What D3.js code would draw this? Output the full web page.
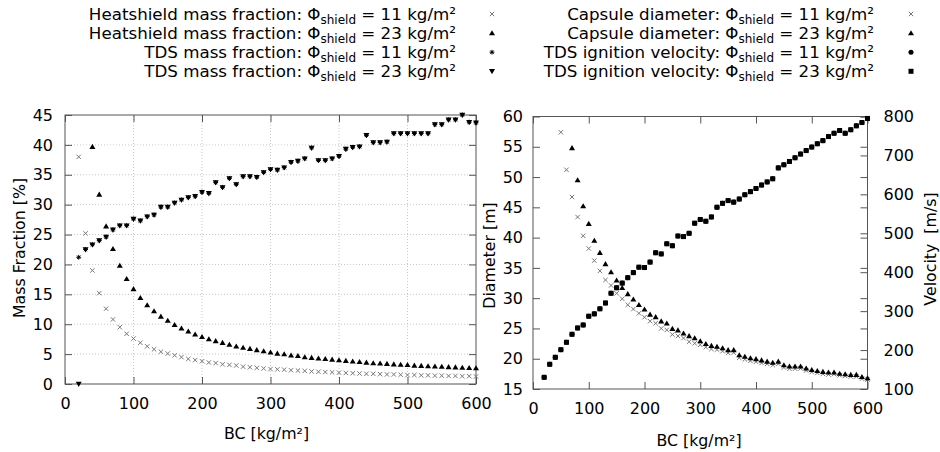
<!DOCTYPE html>
<html>
<head>
<meta charset="utf-8">
<script src="https://cdn.jsdelivr.net/npm/d3@7"></script>
<style>
body { margin: 0; background: #fff; }
text { font-family: "DejaVu Sans", sans-serif; fill: #000; }
</style>
</head>
<body>
<svg id="chart" width="940" height="452"></svg>
<script>
// ballistic coefficient (x) for every sample, kg/m²
const bc = [20, 30, 40, 50, 60, 70, 80, 90, 100, 110,
  120, 130, 140, 150, 160, 170, 180, 190, 200, 210,
  220, 230, 240, 250, 260, 270, 280, 290, 300, 310,
  320, 330, 340, 350, 360, 370, 380, 390, 400, 410,
  420, 430, 440, 450, 460, 470, 480, 490, 500, 510,
  520, 530, 540, 550, 560, 570, 580, 590, 600];

// left plot: mass fractions [%]
const hsFrac11 = [38.0, 25.2, 19.0, 15.2, 12.6, 10.8, 9.5, 8.4, 7.6, 6.9,
  6.3, 5.8, 5.4, 5.1, 4.8, 4.5, 4.2, 4.0, 3.8, 3.6,
  3.5, 3.3, 3.2, 3.1, 2.9, 2.8, 2.7, 2.6, 2.5, 2.45,
  2.4, 2.3, 2.25, 2.2, 2.1, 2.05, 2.0, 1.95, 1.9, 1.85,
  1.8, 1.75, 1.7, 1.7, 1.65, 1.6, 1.6, 1.55, 1.5, 1.5,
  1.45, 1.45, 1.4, 1.4, 1.35, 1.35, 1.3, 1.3, 1.25];
const hsFrac23 = [null, null, 39.7, 31.7, 26.4, 22.6, 19.8, 17.6, 15.9, 14.4,
  13.2, 12.2, 11.3, 10.6, 9.9, 9.3, 8.8, 8.3, 7.9, 7.5,
  7.2, 6.9, 6.6, 6.3, 6.1, 5.9, 5.7, 5.5, 5.3, 5.1,
  5.0, 4.8, 4.7, 4.5, 4.4, 4.3, 4.2, 4.1, 4.0, 3.9,
  3.8, 3.7, 3.6, 3.5, 3.45, 3.4, 3.3, 3.25, 3.2, 3.1,
  3.05, 3.0, 2.95, 2.9, 2.85, 2.8, 2.75, 2.7, 2.65];
const tdsFrac11 = [21.2, 22.5, 23.3, 24.0, 24.6, 25.8, 26.5, 26.5, 27.6, 27.3,
  28.0, 28.3, 29.6, 29.6, 30.3, 30.8, 31.2, 31.4, 32.1, 31.9,
  33.7, 32.9, 34.4, 33.4, 34.7, 34.7, 34.6, 35.4, 35.9, 35.8,
  36.2, 37.1, 37.3, 37.7, 39.5, 37.4, 37.4, 37.7, 38.1, 39.3,
  39.6, 39.7, 41.6, 40.4, 40.4, 40.5, 41.9, 41.9, 41.9, 41.9,
  41.9, 41.9, 43.4, 43.4, 44.2, 44.2, 45.0, 43.8, 43.7];
const tdsFrac23 = [0, 22.5, 23.3, 24.0, 24.6, 25.8, 26.5, 26.5, 27.6, 27.3,
  28.0, 28.3, 29.6, 29.6, 30.3, 30.8, 31.2, 31.4, 32.1, 31.9,
  33.7, 32.9, 34.4, 33.4, 34.7, 34.7, 34.6, 35.4, 35.9, 35.8,
  36.2, 37.1, 37.3, 37.7, 39.5, 37.4, 37.4, 37.7, 38.1, 39.3,
  39.6, 39.7, 41.6, 40.4, 40.4, 40.5, 41.9, 41.9, 41.9, 41.9,
  41.9, 41.9, 43.4, 43.4, 44.2, 44.2, 45.0, 43.8, 43.7];

// right plot: capsule diameter [m] and TDS ignition velocity [m/s]
const diam11 = [null, null, null, 57.4, 51.2, 46.7, 43.4, 40.3, 38.2, 36.2,
  34.5, 33.0, 32.1, 30.8, 29.9, 28.9, 28.2, 27.5, 26.85, 26.2,
  25.85, 25.0, 24.75, 24.0, 23.75, 23.4, 22.8, 22.55, 22.3, 21.9,
  21.6, 21.5, 21.25, 20.95, 21.0, 20.15, 19.9, 19.65, 19.5, 19.3,
  19.15, 18.95, 19.15, 18.55, 18.35, 18.35, 18.4, 18.05, 17.8, 17.65,
  17.5, 17.4, 17.45, 17.25, 17.15, 17.05, 17.05, 16.7, 16.55];
const diam23 = [null, null, null, null, null, 54.8, 49.5, 45.2, 42.3, 39.5,
  37.5, 35.65, 34.3, 32.95, 31.7, 30.7, 29.8, 28.9, 28.15, 27.3,
  26.9, 26.2, 25.85, 24.95, 24.7, 24.2, 23.75, 23.4, 22.9, 22.45,
  22.15, 22.0, 21.75, 21.45, 21.45, 20.6, 20.35, 20.1, 19.95, 19.75,
  19.55, 19.35, 19.55, 18.95, 18.75, 18.75, 18.75, 18.4, 18.15, 18.0,
  17.85, 17.75, 17.75, 17.55, 17.45, 17.35, 17.35, 17.0, 16.8];
const vel11 = [130, 163.5, 181.5, 201, 220, 240.6, 256.8, 264.5, 287, 293,
  306, 321, 346, 360, 372, 386, 399, 413, 412, 426,
  450, 447, 473, 468, 493, 491.5, 500, 526, 535.5, 531,
  542, 567, 577, 584, 580, 588, 599, 607, 615, 624,
  632, 640, 668, 676, 684.5, 694, 703.5, 712.5, 721.5, 730,
  738, 748.5, 757, 764, 757, 766, 776, 784.5, 795];
const vel23 = [130, 163.5, 181.5, 201, 220, 240.6, 256.8, 264.5, 287, 293,
  306, 321, 346, 360, 372, 386, 399, 413, 412, 426,
  450, 447, 473, 468, 493, 491.5, 500, 526, 535.5, 531,
  542, 567, 577, 584, 580, 588, 599, 607, 615, 624,
  632, 640, 668, 676, 684.5, 694, 703.5, 712.5, 721.5, 730,
  738, 748.5, 757, 764, 757, 766, 776, 784.5, 795];

// tick labels
const bcTicks = [0, 100, 200, 300, 400, 500, 600];
const massTicks = [0, 5, 10, 15, 20, 25, 30, 35, 40, 45];
const diamTicks = [15, 20, 25, 30, 35, 40, 45, 50, 55, 60];
const velTicks = [100, 200, 300, 400, 500, 600, 700, 800];

const svg = d3.select("#chart");
const FONT = 16;       // tick labels
const LEG_FONT = 16.7; // legend
const TITLE_FONT = 15.8;

// marker shapes (gnuplot style point types)
function markerPath(type) {
  switch (type) {
    case "cross": return "M-2.2,-2.2L2.2,2.2M-2.2,2.2L2.2,-2.2";
    case "star": return "M-2.4,0L2.4,0M0,-2.4L0,2.4M-1.7,-1.7L1.7,1.7M-1.7,1.7L1.7,-1.7";
    case "tri": return "M0,-2.9L3,2.2L-3,2.2Z";
    case "triDown": return "M0,2.9L3,-2.2L-3,-2.2Z";
    case "circle": return d3.symbol(d3.symbolCircle, 20)();
    case "square": return "M-2.5,-2.5h5v5h-5Z";
  }
}
function styleMarker(sel, type) {
  if (type === "cross") sel.attr("fill", "none").attr("stroke", "#777").attr("stroke-width", 1);
  else if (type === "star") sel.attr("fill", "none").attr("stroke", "#000").attr("stroke-width", 1);
  else sel.attr("fill", "#000").attr("stroke", "none");
}

// scales
const xL = d3.scaleLinear().domain([0, 600]).range([65, 476]);
const yL = d3.scaleLinear().domain([0, 45]).range([384, 115]);
const xR = d3.scaleLinear().domain([0, 600]).range([533, 867.5]);
const yR = d3.scaleLinear().domain([15, 60]).range([389, 116.5]);
const yR2 = d3.scaleLinear().domain([100, 800]).range([389, 116.5]);

// grid on left plot only
const grid = svg.append("g").attr("stroke", "#c8c8c8").attr("stroke-dasharray", "1,2");
bcTicks.slice(1, -1).forEach(t => {
  grid.append("line").attr("x1", xL(t)).attr("x2", xL(t)).attr("y1", yL(0)).attr("y2", yL(45));
});
massTicks.slice(1, -1).forEach(t => {
  grid.append("line").attr("x1", xL(0)).attr("x2", xL(600)).attr("y1", yL(t)).attr("y2", yL(t));
});

// axes with inward ticks
function addAxis(axis, tx, ty, showText) {
  const g = svg.append("g")
    .attr("transform", `translate(${tx},${ty})`)
    .call(axis)
    .attr("font-size", FONT)
    .attr("font-family", "DejaVu Sans");
  g.select(".domain").remove();
  g.selectAll("line").attr("stroke", "#555");
  if (!showText) g.selectAll("text").remove();
  return g;
}
const TK = 7;
// left plot
addAxis(d3.axisBottom(xL).tickValues(bcTicks).tickSize(-TK).tickPadding(14), 0, yL(0), true);
addAxis(d3.axisTop(xL).tickValues(bcTicks).tickSize(-TK), 0, yL(45), false);
addAxis(d3.axisLeft(yL).tickValues(massTicks).tickSize(-TK).tickPadding(12), xL(0), 0, true);
addAxis(d3.axisRight(yL).tickValues(massTicks).tickSize(-TK), xL(600), 0, false);
// right plot
addAxis(d3.axisBottom(xR).tickValues(bcTicks).tickSize(-TK).tickPadding(14), 0, yR(15), true);
addAxis(d3.axisTop(xR).tickValues(bcTicks).tickSize(-TK), 0, yR(60), false);
addAxis(d3.axisLeft(yR).tickValues(diamTicks).tickSize(-TK).tickPadding(10), xR(0), 0, true);
addAxis(d3.axisLeft(yR).tickValues(diamTicks).tickSize(TK), xR(600), 0, false);
addAxis(d3.axisRight(yR2).tickValues(velTicks).tickSize(-TK).tickPadding(16), xR(600), 0, true);

// borders
svg.append("rect").attr("x", xL(0)).attr("y", yL(45))
  .attr("width", xL(600) - xL(0)).attr("height", yL(0) - yL(45))
  .attr("fill", "none").attr("stroke", "#555");
svg.append("rect").attr("x", xR(0)).attr("y", yR(60))
  .attr("width", xR(600) - xR(0)).attr("height", yR(15) - yR(60))
  .attr("fill", "none").attr("stroke", "#555");

// series
const leftSeries = [
  { label: "Heatshield mass fraction: Φ", phi: "11", values: hsFrac11, type: "cross" },
  { label: "Heatshield mass fraction: Φ", phi: "23", values: hsFrac23, type: "tri" },
  { label: "TDS mass fraction: Φ", phi: "11", values: tdsFrac11, type: "star" },
  { label: "TDS mass fraction: Φ", phi: "23", values: tdsFrac23, type: "triDown" }
];
const rightSeries = [
  { label: "Capsule diameter: Φ", phi: "11", values: diam11, type: "cross", y: yR },
  { label: "Capsule diameter: Φ", phi: "23", values: diam23, type: "tri", y: yR },
  { label: "TDS ignition velocity: Φ", phi: "11", values: vel11, type: "circle", y: yR2 },
  { label: "TDS ignition velocity: Φ", phi: "23", values: vel23, type: "square", y: yR2 }
];

function drawPoints(series, x, y) {
  const pts = bc.map((b, i) => ({ b, v: series.values[i] })).filter(d => d.v !== null);
  const sel = svg.append("g").selectAll("path")
    .data(pts)
    .enter()
    .append("path")
    .attr("d", markerPath(series.type))
    .attr("transform", d => `translate(${x(d.b)},${y(d.v)})`);
  styleMarker(sel, series.type);
}
leftSeries.forEach(s => drawPoints(s, xL, yL));
rightSeries.forEach(s => drawPoints(s, xR, s.y));

// legend
function legendRow(s, i, textX, markX) {
  const yb = 19.5 + i * 19.1;
  const t = svg.append("text")
    .attr("x", textX).attr("y", yb)
    .attr("text-anchor", "end")
    .attr("font-size", LEG_FONT);
  t.append("tspan").text(s.label);
  t.append("tspan").attr("font-size", 12).attr("dy", 4).text("shield");
  t.append("tspan").attr("dy", -4).text(` = ${s.phi} kg/m²`);
  const m = svg.append("path")
    .attr("d", markerPath(s.type))
    .attr("transform", `translate(${markX},${yb - 5.5})`);
  styleMarker(m, s.type);
}
leftSeries.forEach((s, i) => legendRow(s, i, 456, 492));
rightSeries.forEach((s, i) => legendRow(s, i, 874, 911));

// axis titles
svg.append("text").attr("x", 266.5).attr("y", 439).attr("text-anchor", "middle")
  .attr("font-size", TITLE_FONT).text("BC [kg/m²]");
svg.append("text").attr("x", 699).attr("y", 446).attr("text-anchor", "middle")
  .attr("font-size", TITLE_FONT).text("BC [kg/m²]");
svg.append("text").attr("transform", "translate(25,248) rotate(-90)").attr("text-anchor", "middle")
  .attr("font-size", TITLE_FONT).text("Mass Fraction [%]");
svg.append("text").attr("transform", "translate(495,255.5) rotate(-90)").attr("text-anchor", "middle")
  .attr("font-size", TITLE_FONT).text("Diameter [m]");
svg.append("text").attr("transform", "translate(936,249) rotate(-90)").attr("text-anchor", "middle")
  .attr("font-size", TITLE_FONT).style("white-space", "pre").text("Velocity  [m/s]");
</script>
</body>
</html>
